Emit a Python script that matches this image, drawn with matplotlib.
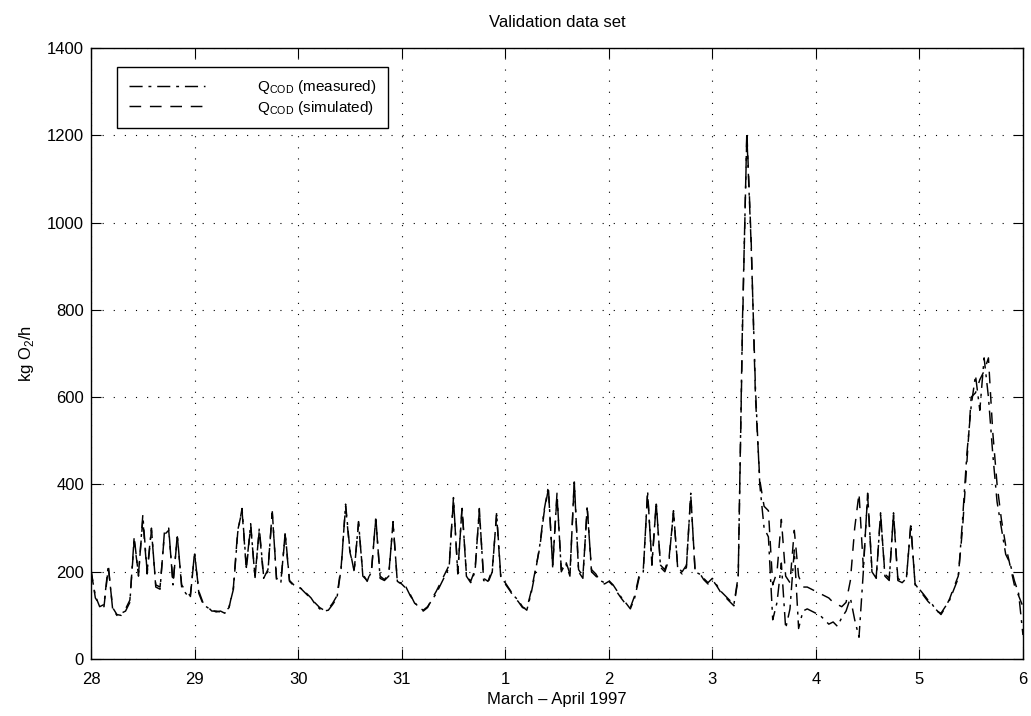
import numpy as np
import matplotlib.pyplot as plt

plt.rcParams['font.family'] = ['Liberation Sans', 'DejaVu Sans']

# hourly values, kg O2/h, from 28 March 00:00 to 6 April 00:00
measured = [
    # 28 March
    200, 145, 120, 125, 215, 115, 100, 105, 110, 130, 280, 190,
    330, 200, 300, 165, 160, 290, 300, 170, 285, 165, 150, 140,
    # 29 March
    245, 150, 125, 118, 112, 108, 110, 105, 120, 160, 290, 345,
    210, 310, 185, 300, 190, 200, 340, 180, 175, 290, 180, 170,
    # 30 March
    165, 160, 150, 140, 125, 115, 110, 112, 125, 140, 210, 355,
    250, 200, 315, 190, 180, 200, 325, 185, 180, 190, 315, 175,
    # 31 March
    175, 165, 145, 130, 118, 112, 120, 135, 150, 170, 190, 210,
    370, 195, 350, 190, 175, 200, 345, 180, 175, 200, 335, 185,
    # 1 April
    175, 160, 145, 135, 120, 112, 150, 200, 260, 340, 395, 210,
    380, 200, 220, 190, 410, 200, 185, 350, 200, 190, 180, 175,
    # 2 April
    180, 170, 155, 140, 128, 115, 140, 185, 200, 385, 215, 360,
    210, 200, 230, 340, 205, 195, 210, 380, 200, 195, 185, 175,
    # 3 April
    185, 170, 155, 145, 135, 125, 190, 780, 1200, 950, 620, 400,
    300, 280, 90, 130, 220, 70, 115, 250, 70, 110, 115, 110,
    # 4 April
    105, 100, 90, 80, 85, 75, 95, 110, 140, 90, 50, 200,
    380, 200, 185, 335, 190, 180, 335, 180, 175, 185, 310, 170,
    # 5 April
    160, 148, 135, 125, 110, 105, 120, 135, 160, 185, 320, 470,
    580, 650, 570, 690, 600, 470, 360, 300, 240, 220, 180, 150,
    # 6 April
    55,
]

simulated = [
    # 28 March
    205, 140, 125, 120, 210, 118, 102, 100, 115, 135, 270, 195,
    320, 195, 295, 170, 165, 285, 295, 175, 280, 170, 155, 145,
    # 29 March
    240, 155, 128, 120, 110, 110, 108, 108, 118, 165, 295, 340,
    205, 305, 190, 295, 185, 205, 335, 185, 178, 285, 178, 168,
    # 30 March
    168, 158, 148, 138, 128, 118, 112, 115, 128, 145, 215, 350,
    245, 205, 310, 195, 178, 205, 320, 190, 182, 195, 310, 178,
    # 31 March
    172, 162, 148, 128, 120, 110, 118, 138, 155, 175, 195, 215,
    365, 200, 345, 195, 178, 205, 340, 185, 178, 205, 330, 182,
    # 1 April
    172, 158, 142, 132, 118, 115, 155, 205, 255, 335, 390, 215,
    375, 205, 225, 195, 405, 205, 190, 345, 205, 195, 178, 172,
    # 2 April
    178, 168, 152, 138, 125, 118, 145, 190, 205, 380, 220, 355,
    215, 205, 235, 335, 210, 200, 215, 375, 205, 198, 182, 172,
    # 3 April
    182, 168, 152, 142, 132, 122, 185, 760, 1210, 960, 600, 410,
    350, 340, 170, 200, 320, 190, 175, 295, 190, 165, 165, 160,
    # 4 April
    155, 150, 145, 140, 130, 125, 120, 130, 180, 300, 380, 210,
    375, 205, 190, 330, 195, 185, 330, 185, 178, 188, 305, 172,
    # 5 April
    158, 145, 132, 122, 112, 102, 118, 138, 165, 190, 300, 450,
    600, 610, 640, 660, 690, 520, 400, 320, 260, 215, 170, 145,
    # 6 April
    120,
]

day_labels = ['28', '29', '30', '31', '1', '2', '3', '4', '5', '6']

t_meas = np.arange(len(measured)) / 24.0
t_sim = np.arange(len(simulated)) / 24.0

fig = plt.figure(figsize=(10.31, 7.16), dpi=100)
ax = fig.add_axes([0.0883, 0.0795, 0.9039, 0.8535])

ax.plot(t_meas, measured, color='black', linewidth=1.05,
        dashes=(9, 4, 2, 4), label=r'Q$_{\mathregular{COD}}$ (measured)')
ax.plot(t_sim, simulated, color='black', linewidth=1.05,
        dashes=(8, 6), label=r'Q$_{\mathregular{COD}}$ (simulated)')

ax.set_xlim(0, 9)
ax.set_ylim(0, 1400)
ax.set_xticks(range(len(day_labels)))
ax.set_xticklabels(day_labels)
ax.set_yticks(range(0, 1401, 200))

ax.tick_params(direction='in', top=True, right=True, length=7, width=0.8,
               labelsize=12)
ax.tick_params(axis='x', pad=9)
ax.tick_params(axis='y', pad=5)
ax.grid(True, color='black', linestyle=(0, (1, 9)), linewidth=0.8)
for s in ax.spines.values():
    s.set_linewidth(1.0)

ax.set_title('Validation data set', fontsize=12, pad=15)
ax.set_xlabel('March \u2013 April 1997', fontsize=12, labelpad=4)
ax.set_ylabel(r'kg O$_{\mathregular{2}}$/h', fontsize=12, labelpad=8)

leg = ax.legend(loc='upper left', bbox_to_anchor=(0.028, 0.969),
                borderaxespad=0, fontsize=11, handlelength=5.0,
                handletextpad=3.4, fancybox=False, framealpha=1,
                edgecolor='black', borderpad=0.75, labelspacing=0.15)
leg.get_frame().set_linewidth(1.0)

plt.savefig('out.png', dpi=100)
